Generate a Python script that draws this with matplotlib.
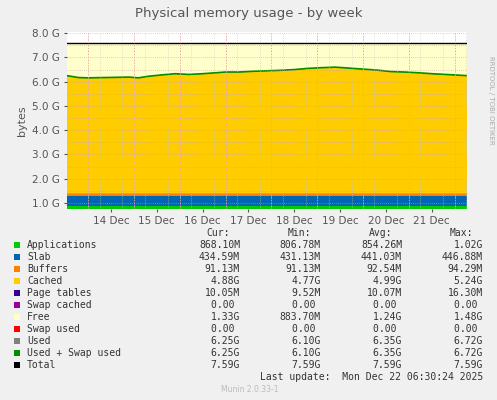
import matplotlib
matplotlib.use("Agg")
import matplotlib.pyplot as plt
import numpy as np

# time in days of December
days = [13.54, 13.8, 14.0, 14.3, 14.6, 14.9, 15.1, 15.3, 15.6, 15.9, 16.2, 16.5, 16.8,
        17.0, 17.3, 17.6, 17.9, 18.2, 18.5, 18.8, 19.1, 19.4, 19.7, 20.0, 20.3, 20.6,
        20.9, 21.2, 21.5, 21.8, 22.0, 22.27]
used = [6.25, 6.17, 6.16, 6.17, 6.18, 6.19, 6.16, 6.22, 6.28, 6.33, 6.30, 6.33, 6.37,
        6.40, 6.40, 6.43, 6.45, 6.47, 6.50, 6.55, 6.58, 6.60, 6.56, 6.52, 6.48, 6.42,
        6.40, 6.37, 6.33, 6.30, 6.28, 6.25]
apps = 0.868
slab = 0.435
buffers = 0.091
pagetables = 0.010
total = 7.59

ticks = [14.5, 15.5, 16.5, 17.5, 18.5, 19.5, 20.5, 21.5]
tick_labels = ["14 Dec", "15 Dec", "16 Dec", "17 Dec", "18 Dec", "19 Dec", "20 Dec", "21 Dec"]

legend_rows = [
    ("Applications", "#00CC00", "868.10M", "806.78M", "854.26M", "1.02G"),
    ("Slab", "#0066B3", "434.59M", "431.13M", "441.03M", "446.88M"),
    ("Buffers", "#FF8000", "91.13M", "91.13M", "92.54M", "94.29M"),
    ("Cached", "#FFCC00", "4.88G", "4.77G", "4.99G", "5.24G"),
    ("Page tables", "#330099", "10.05M", "9.52M", "10.07M", "16.30M"),
    ("Swap cached", "#990099", "0.00 ", "0.00 ", "0.00 ", "0.00 "),
    ("Free", "#FFFFCC", "1.33G", "883.70M", "1.24G", "1.48G"),
    ("Swap used", "#FF0000", "0.00 ", "0.00 ", "0.00 ", "0.00 "),
    ("Used", "#808080", "6.25G", "6.10G", "6.35G", "6.72G"),
    ("Used + Swap used", "#008F00", "6.25G", "6.10G", "6.35G", "6.72G"),
    ("Total", "#000000", "7.59G", "7.59G", "7.59G", "7.59G"),
]

x = np.array(days)
u = np.array(used)
n = len(x)
a = np.full(n, apps)
s = np.full(n, slab)
b = np.full(n, buffers)
p = np.full(n, pagetables)
c = u - a - s - b - p
f = total - u

fig = plt.figure(figsize=(4.97, 4.0), dpi=100, facecolor="#F0F0F0")
ax = fig.add_axes([67/497, 1 - 209/400, 400/497, 177/400])
ax.stackplot(x, a, s, b, c, p, f,
             colors=["#00CC00", "#0066B3", "#FF8000", "#FFCC00", "#330099", "#FFFFCC"],
             linewidth=0)
ax.plot(x, u, color="#008F00", lw=1.2)
ax.plot(x, np.full(n, total), color="black", lw=1)
ax.set_xlim(days[0], days[-1])
ax.set_ylim(0.75, 8.05)
ax.set_yticks(np.arange(1, 9))
ax.set_yticklabels(["%.1f G" % v for v in range(1, 9)])
ax.set_yticks(np.arange(1, 8.01, 0.5), minor=True)
ax.set_xticks(ticks)
ax.set_xticklabels(tick_labels)
ax.set_xticks(np.arange(14, 22.3, 0.25), minor=True)
for d in range(14, 23):
    ax.axvline(d, color="#FF9999", ls=(0, (1, 2)), lw=0.7, zorder=3)
ax.grid(which="both", axis="y", color="#C8A0A0", ls=(0, (1, 2)), lw=0.5)
ax.grid(which="minor", axis="x", color="#C8C8C8", ls=(0, (1, 2)), lw=0.5)
ax.set_axisbelow(False)
for sp in ax.spines.values():
    sp.set_visible(False)
ax.tick_params(labelsize=7.5, colors="#555555", length=2, pad=3)
ax.tick_params(which="minor", length=0)
ax.set_ylabel("bytes", fontsize=8, color="#555555")
fig.text(0.5, 1 - 13/400, "Physical memory usage - by week", ha="center", va="center",
         fontsize=9.5, color="#555555")
fig.text(491/497, 1 - 100/400, "RRDTOOL / TOBI OETIKER", rotation=270, ha="center",
         va="center", fontsize=5, color="#AAAAAA")

mono = "DejaVu Sans Mono"
fs = 7
cols = [240, 321, 402, 483]
for cx, h in zip(cols, ["Cur:", "Min:", "Avg:", "Max:"]):
    fig.text((cx - 10) / 497, 1 - 233/400, h, ha="right", va="center", family=mono, fontsize=fs, color="#333333")
for i, row in enumerate(legend_rows):
    yy = 1 - (245 + 12 * i) / 400
    fig.patches.append(plt.Rectangle((14/497, yy - 3/400), 6/497, 6/400, transform=fig.transFigure,
                                     facecolor=row[1], edgecolor="none"))
    fig.text(27/497, yy, row[0], ha="left", va="center", family=mono, fontsize=fs, color="#333333")
    for cx, v in zip(cols, row[2:]):
        fig.text(cx/497, yy, v, ha="right", va="center", family=mono, fontsize=fs, color="#333333")
fig.text(483/497, 1 - 377/400, "Last update:  Mon Dec 22 06:30:24 2025", ha="right", va="center",
         family=mono, fontsize=fs, color="#333333")
fig.text(250/497, 1 - 389/400, "Munin 2.0.33-1", ha="center", va="center", fontsize=5.5, color="#BBBBBB")
fig.savefig("out.png", dpi=100, facecolor="#F0F0F0")
